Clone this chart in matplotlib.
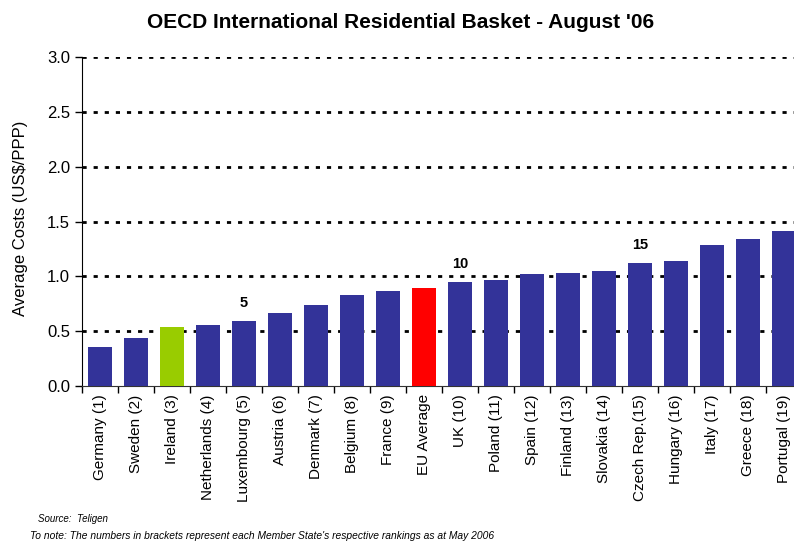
import matplotlib.pyplot as plt
import numpy as np

plt.rcParams['font.family'] = ['Liberation Sans', 'DejaVu Sans']

countries = ['Germany (1)', 'Sweden (2)', 'Ireland (3)', 'Netherlands (4)', 'Luxembourg (5)',
             'Austria (6)', 'Denmark (7)', 'Belgium (8)', 'France (9)', 'EU Average',
             'UK (10)', 'Poland (11)', 'Spain (12)', 'Finland (13)', 'Slovakia (14)',
             'Czech Rep.(15)', 'Hungary (16)', 'Italy (17)', 'Greece (18)', 'Portugal (19)']
costs = [0.36, 0.44, 0.54, 0.56, 0.59, 0.67, 0.74, 0.83, 0.87, 0.89,
         0.95, 0.97, 1.02, 1.03, 1.05, 1.12, 1.14, 1.29, 1.34, 1.41]
rank_marks = {'Luxembourg (5)': '5', 'UK (10)': '10', 'Czech Rep.(15)': '15'}

bar_colors = []
for c in countries:
    if c.startswith('Ireland'):
        bar_colors.append('#99CC00')
    elif c == 'EU Average':
        bar_colors.append('#FF0000')
    else:
        bar_colors.append('#333399')

fig = plt.figure(figsize=(7.94, 5.42), dpi=100)
ax = fig.add_axes([82 / 794, 1 - 386 / 542, 720 / 794, 329 / 542])

x = np.arange(len(countries))
ax.bar(x, costs, width=0.64, color=bar_colors, zorder=3)

for i, c in enumerate(countries):
    if c in rank_marks:
        ax.text(i, costs[i] + 0.1, rank_marks[c], ha='center', va='bottom',
                fontsize=10.5, fontweight='bold')

ax.set_xlim(-0.5, len(countries) - 0.5)
ax.set_ylim(0, 3.0)
ax.set_yticks(np.arange(0, 3.01, 0.5))
ax.set_yticklabels([f'{v:.1f}' for v in np.arange(0, 3.01, 0.5)], fontsize=12)
ax.set_xticks(x)
ax.set_xticklabels(countries, rotation=90, fontsize=11)
ax.set_xticks(np.arange(-0.5, len(countries), 1), minor=True)
ax.tick_params(axis='x', which='major', length=0, pad=6)
ax.tick_params(axis='x', which='minor', length=5, direction='out', width=1)
ax.tick_params(axis='y', length=5, direction='out', width=1)

for v in np.arange(0.5, 3.01, 0.5):
    ax.axhline(v, color='black', linestyle=(0, (1.5, 2.5)), linewidth=2, zorder=1)

ax.spines['top'].set_visible(False)
ax.spines['right'].set_visible(False)
ax.spines['left'].set_color('black')
ax.spines['bottom'].set_color('#333333')

ax.set_ylabel('Average Costs (US$/PPP)', fontsize=12)
ax.yaxis.set_label_coords(-0.075, 0.51)
fig.text(0.504, 0.958, "OECD International Residential Basket - August '06",
         ha='center', va='center', fontsize=15, fontweight='bold')

fig.text(38 / 794, 1 - 519 / 542, 'Source:  Teligen', fontsize=7, style='italic', va='center')
fig.text(30 / 794, 1 - 536 / 542,
         "To note: The numbers in brackets represent each Member State's respective rankings as at May 2006",
         fontsize=7.4, style='italic', va='center')

fig.savefig('out.png', dpi=100)
